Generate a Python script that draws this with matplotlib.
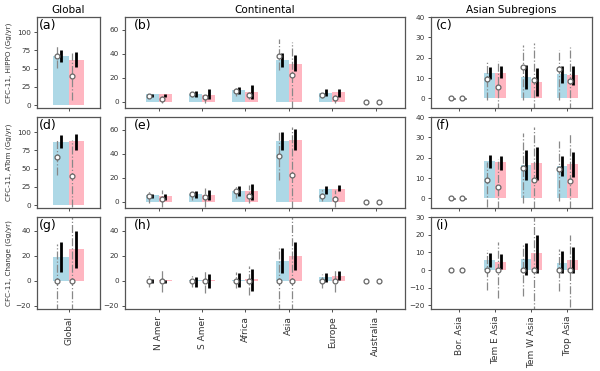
import matplotlib
matplotlib.use("Agg")
import matplotlib.pyplot as plt
import numpy as np

# ---------------- data ----------------
regions = ["Global", "N Amer", "S Amer", "Africa", "Asia", "Europe", "Australia",
           "Bor. Asia", "Tem E Asia", "Tem W Asia", "Trop Asia"]
col_titles = ["Global", "Continental", "Asian Subregions"]
row_labels = ["CFC-11, HIPPO (Gg/yr)", "CFC-11, ATom (Gg/yr)", "CFC-11, Change (Gg/yr)"]
panel_letters = [["(a)", "(b)", "(c)"], ["(d)", "(e)", "(f)"], ["(g)", "(h)", "(i)"]]

# Row 1: HIPPO
hippo_blue_bar = [67.5, 6.3, 6.8, 9.8, 35.0, 7.1, 0.3, 0.2, 12.7, 10.5, 11.9]
hippo_pink_bar = [62.5, 6.3, 5.7, 7.9, 31.7, 7.9, 0.3, 0.2, 12.7, 8.0, 11.4]
hippo_blue_pt = [67.0, 4.9, 6.3, 8.7, 38.5, 5.5, 0.0, 0.0, 9.4, 15.2, 14.4]
hippo_blue_rng_lo = [51.0, 4.0, 4.0, 5.0, 26.8, 3.0, 0.0, 0.0, -0.7, -0.7, -0.7]
hippo_blue_rng_hi = [82.0, 6.0, 8.0, 11.7, 51.9, 7.6, 0.0, 0.0, 18.0, 26.4, 23.6]
hippo_blue_unc_lo = [59.6, 4.4, 4.0, 6.3, 29.0, 4.9, -0.15, -0.15, 9.4, 4.7, 7.7]
hippo_blue_unc_hi = [75.0, 6.8, 9.0, 12.6, 41.0, 10.4, 0.15, 0.15, 15.2, 16.4, 16.0]
hippo_pink_pt = [40.0, 2.7, 4.1, 5.5, 22.7, 3.0, 0.0, 0.0, 5.7, 9.0, 8.7]
hippo_pink_rng_lo = [7.0, -1.0, -1.0, 2.2, -6.0, -1.1, 0.0, 0.0, -6.0, -6.0, -6.0]
hippo_pink_rng_hi = [72.0, 4.9, 6.3, 8.2, 50.0, 6.3, 0.0, 0.0, 18.6, 27.3, 25.3]
hippo_pink_unc_lo = [53.0, 4.4, 2.7, 2.7, 25.4, 4.4, -0.15, -0.15, 10.2, 1.0, 6.4]
hippo_pink_unc_hi = [72.6, 7.0, 10.4, 13.7, 39.0, 10.9, 0.15, 0.15, 16.0, 14.9, 16.0]

# Row 2: ATom
atom_blue_bar = [87.0, 5.7, 6.3, 9.5, 51.0, 10.6, 0.3, 0.3, 18.2, 16.5, 16.0]
atom_pink_bar = [87.5, 5.2, 5.7, 8.7, 51.8, 10.9, 0.3, 0.3, 17.7, 17.3, 16.9]
atom_blue_pt = [66.4, 4.6, 6.3, 8.7, 38.0, 5.2, 0.0, 0.0, 8.9, 14.9, 14.4]
atom_blue_rng_lo = [41.0, -0.8, 1.9, 3.3, 18.3, 0.5, 0.0, 0.0, -4.0, -2.0, -1.3]
atom_blue_rng_hi = [90.0, 9.5, 10.0, 14.2, 59.0, 11.4, 0.0, 0.0, 17.7, 32.0, 28.4]
atom_blue_unc_lo = [78.0, 3.0, 3.3, 5.2, 43.3, 6.8, -0.15, -0.15, 14.9, 9.2, 11.2]
atom_blue_unc_hi = [96.0, 6.8, 9.5, 13.4, 57.8, 13.4, 0.15, 0.15, 21.4, 24.0, 21.0]
atom_pink_pt = [40.0, 2.5, 3.8, 4.6, 22.3, 2.5, 0.0, 0.0, 5.5, 8.9, 8.8]
atom_pink_rng_lo = [-3.0, -4.0, -4.0, -0.8, -6.0, -4.0, 0.0, 0.0, -5.0, -5.0, -5.0]
atom_pink_rng_hi = [89.0, 10.0, 11.4, 14.2, 62.0, 10.0, 0.0, 0.0, 19.3, 35.0, 32.0]
atom_pink_unc_lo = [76.0, 1.9, 1.9, 1.9, 43.3, 8.7, -0.15, -0.15, 14.1, 8.9, 10.5]
atom_pink_unc_hi = [98.0, 6.8, 10.0, 15.0, 60.5, 14.2, 0.15, 0.15, 20.6, 25.4, 22.7]

# Row 3: Change
chg_blue_bar = [19.3, 0.2, 0.5, 0.5, 16.1, 3.1, 0.0, 0.0, 5.7, 6.0, 4.2]
chg_pink_bar = [25.3, 0.3, 0.5, 1.5, 20.0, 3.6, 0.0, 0.0, 4.5, 9.4, 5.7]
chg_blue_pt = [0.0, 0.0, 0.0, 0.0, 0.0, 0.0, 0.0, 0.0, 0.0, 0.0, 0.0]
chg_blue_rng_lo = [-25.0, -5.2, -4.7, -6.0, -25.0, -6.0, 0.0, 0.0, -11.3, -14.7, -11.7]
chg_blue_rng_hi = [29.8, 5.2, 4.4, 7.0, 26.5, 5.7, 0.0, 0.0, 11.3, 14.2, 11.7]
chg_blue_unc_lo = [7.4, -2.0, -5.2, -5.2, 6.2, -0.8, -0.15, -0.15, 1.5, -2.8, -1.9]
chg_blue_unc_hi = [31.0, 1.8, 3.1, 6.2, 26.0, 6.5, 0.15, 0.15, 9.8, 15.5, 10.9]
chg_pink_pt = [0.0, 0.0, 0.0, 0.0, 0.0, 0.0, 0.0, 0.0, 0.0, 0.0, 0.0]
chg_pink_rng_lo = [-25.0, -8.6, -9.4, -11.2, -25.0, -8.6, 0.0, 0.0, -16.0, -25.0, -20.8]
chg_pink_rng_hi = [55.0, 8.3, 8.3, 12.2, 55.0, 8.8, 0.0, 0.0, 16.0, 35.0, 19.8]
chg_pink_unc_lo = [10.0, -2.0, -5.5, -7.8, 8.8, 0.5, -0.15, -0.15, 0.4, -1.5, -1.9]
chg_pink_unc_hi = [40.0, 1.0, 5.7, 9.6, 31.0, 7.5, 0.15, 0.15, 9.0, 19.8, 13.2]

rows = [
    (hippo_blue_bar, hippo_pink_bar, hippo_blue_pt, hippo_blue_rng_lo, hippo_blue_rng_hi,
     hippo_blue_unc_lo, hippo_blue_unc_hi, hippo_pink_pt, hippo_pink_rng_lo, hippo_pink_rng_hi,
     hippo_pink_unc_lo, hippo_pink_unc_hi),
    (atom_blue_bar, atom_pink_bar, atom_blue_pt, atom_blue_rng_lo, atom_blue_rng_hi,
     atom_blue_unc_lo, atom_blue_unc_hi, atom_pink_pt, atom_pink_rng_lo, atom_pink_rng_hi,
     atom_pink_unc_lo, atom_pink_unc_hi),
    (chg_blue_bar, chg_pink_bar, chg_blue_pt, chg_blue_rng_lo, chg_blue_rng_hi,
     chg_blue_unc_lo, chg_blue_unc_hi, chg_pink_pt, chg_pink_rng_lo, chg_pink_rng_hi,
     chg_pink_unc_lo, chg_pink_unc_hi),
]

col_slices = [slice(0, 1), slice(1, 7), slice(7, 11)]
yticks = [
    [[0, 25, 50, 75, 100], [0, 20, 40, 60], [0, 10, 20, 30, 40]],
    [[0, 25, 50, 75, 100], [0, 20, 40, 60], [0, 10, 20, 30, 40]],
    [[-20, 0, 20, 40], [-20, 0, 20, 40], [-20, -10, 0, 10, 20, 30]],
]
ylims = [
    [(-4, 121), (-5, 70.5), (-4.7, 40)],
    [(-4, 121), (-5, 70.5), (-4.7, 40)],
    [(-22.5, 51), (-22.5, 51), (-22, 30)],
]

# ---------------- layout ----------------
W, H = 600, 371
fig = plt.figure(figsize=(W / 100, H / 100), dpi=100)
col_px = [(37, 100), (125, 405), (431, 592)]
row_px = [(17, 108), (117, 208), (217, 309)]

BLUE = "#add8e6"
PINK = "#ffb6c1"
GRAY = "#888888"
SPINE = "#555555"
bw = 0.3

for r in range(3):
    data = rows[r]
    for c in range(3):
        x0, x1 = col_px[c]
        y0, y1 = row_px[r]
        ax = fig.add_axes([x0 / W, 1 - y1 / H, (x1 - x0) / W, (y1 - y0) / H])
        sl = col_slices[c]
        names = regions[sl]
        n = len(names)
        x = np.arange(n)
        d = [np.asarray(a[sl], dtype=float) for a in data]
        (bb, pb, bpt, brlo, brhi, bulo, buhi, ppt, prlo, prhi, pulo, puhi) = d
        ax.bar(x - bw / 2, bb, width=bw, color=BLUE, zorder=1)
        ax.bar(x + bw / 2, pb, width=bw, color=PINK, zorder=1)
        xb_pt = x - bw + bw / 4
        xp_pt = x + bw / 4
        xb_unc = x - bw / 2
        xp_unc = x + bw / 2
        ax.vlines(xb_pt, brlo, brhi, colors=GRAY, linestyles="dashdot", lw=0.9, zorder=2)
        ax.vlines(xp_pt, prlo, prhi, colors=GRAY, linestyles="dashdot", lw=0.9, zorder=2)
        ax.vlines(xb_unc, bulo, buhi, colors="black", lw=2.0, zorder=3)
        ax.vlines(xp_unc, pulo, puhi, colors="black", lw=2.0, zorder=3)
        ax.plot(xb_pt, bpt, "o", ms=3.5, mfc="white", mec="#666666", mew=0.9, zorder=4, ls="none")
        ax.plot(xp_pt, ppt, "o", ms=3.5, mfc="white", mec="#666666", mew=0.9, zorder=4, ls="none")

        if c == 0:
            ax.set_xlim(-0.6, 0.6)
        else:
            ax.set_xlim(-0.78, n - 1 + 0.68)
        ax.set_ylim(*ylims[r][c])
        ax.set_yticks(yticks[r][c])
        ax.set_xticks(x)
        if r == 2:
            ax.set_xticklabels(names, rotation=90, fontsize=6.5, color="#222222")
        else:
            ax.set_xticklabels([])
        ax.tick_params(axis="y", labelsize=5.2, colors="#333333", length=2.5, width=0.6, pad=2)
        ax.tick_params(axis="x", colors="#333333", length=2.5, width=0.6, pad=2.5)
        for s in ax.spines.values():
            s.set_color(SPINE)
            s.set_linewidth(0.9)
        ax.text(0.03, 0.98, panel_letters[r][c], transform=ax.transAxes,
                ha="left", va="top", fontsize=9)
        if c == 0:
            ax.set_ylabel(row_labels[r], fontsize=5.2, color="#333333")
            ax.yaxis.set_label_coords((12 - x0) / (x1 - x0), 0.5)
        if r == 0:
            ax.set_title(col_titles[c], fontsize=7.5, pad=3)

fig.savefig("out.png", dpi=100)
